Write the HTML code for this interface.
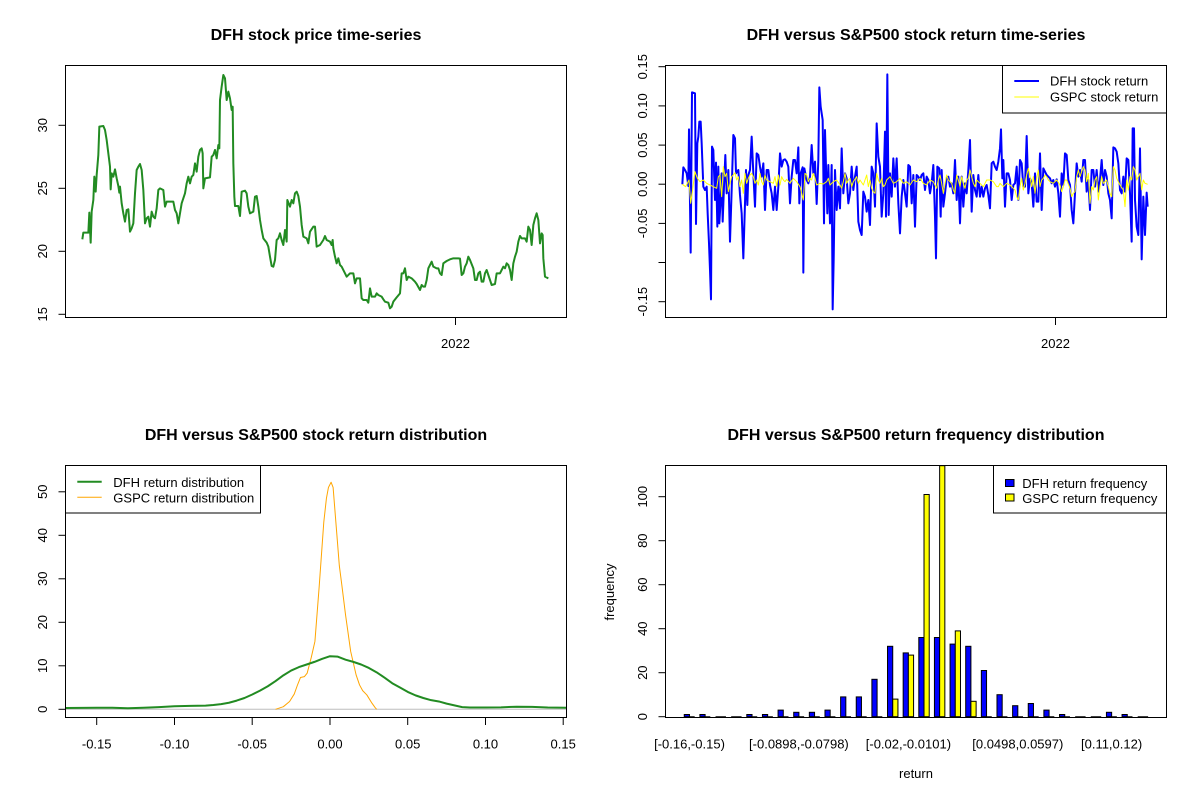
<!DOCTYPE html>
<html>
<head>
<meta charset="utf-8">
<style>
html,body{margin:0;padding:0;background:#fff;}
svg{display:block;font-family:"Liberation Sans",Arial,sans-serif;}
.t{font-size:16px;font-weight:bold;text-anchor:middle;fill:#000;}
.l{font-size:13px;fill:#000;}
.m{text-anchor:middle;}
</style>
</head>
<body>
<svg width="1200" height="800" viewBox="0 0 1200 800" xmlns="http://www.w3.org/2000/svg">
<rect width="1200" height="800" fill="#fff"/>

<!-- ============ TOP LEFT: price ============ -->
<text class="t" x="316" y="40">DFH stock price time-series</text>
<g transform="translate(60 60) scale(0.333333)">
<polyline fill="none" stroke="#228B22" stroke-width="2" vector-effect="non-scaling-stroke" stroke-linejoin="round" points="67,538 70,518 85,518 88,458 92,548 95,455 100,420 103,350 107,395 110,345 115,285 118,200 130,198 135,210 140,240 145,280 150,320 152,388 155,340 160,350 165,328 170,355 175,378 178,398 180,380 185,430 190,460 195,485 200,450 205,448 210,515 215,505 220,490 225,400 230,330 235,320 240,312 245,330 250,390 255,490 260,475 265,470 270,500 275,455 280,470 285,475 290,445 295,390 300,385 310,390 315,440 320,425 330,425 340,425 345,450 350,460 355,490 360,460 365,430 375,400 380,370 385,350 390,370 395,350 400,345 405,310 410,335 415,290 420,270 425,265 428,280 430,385 435,355 450,352 455,290 460,285 465,270 470,295 475,255 478,265 480,120 485,80 490,45 495,55 500,120 505,95 510,115 515,150 518,140 520,310 523,410 525,438 535,438 540,468 545,395 555,392 560,400 565,440 570,460 580,455 585,410 590,408 595,440 600,480 605,510 610,535 620,548 625,560 630,590 635,618 640,620 645,600 650,540 655,535 660,520 665,540 670,555 675,510 680,545 682,420 690,440 695,420 700,430 705,400 710,395 715,408 720,440 725,495 730,530 740,535 745,550 750,515 760,500 765,500 770,560 780,555 790,540 795,528 800,540 810,545 815,555 818,540 820,565 825,590 830,610 835,595 840,615 845,620 855,640 860,650 870,640 880,640 885,670 890,655 900,655 905,715 910,720 920,720 925,728 930,685 935,710 945,710 950,700 955,705 965,710 970,718 975,725 985,728 990,745 995,740 1000,725 1010,712 1020,700 1025,640 1030,640 1035,625 1040,660 1045,650 1055,655 1060,660 1065,665 1070,672 1080,690 1085,675 1090,680 1095,680 1100,660 1105,625 1110,615 1115,605 1120,620 1130,625 1135,625 1140,640 1145,645 1150,610 1160,603 1170,598 1180,595 1195,595 1200,596 1205,645 1210,640 1215,620 1220,610 1225,590 1230,600 1240,625 1245,660 1250,660 1255,640 1260,635 1265,665 1270,665 1275,640 1280,630 1285,645 1290,660 1295,675 1305,672 1310,640 1320,640 1325,630 1330,620 1335,625 1340,610 1345,615 1350,630 1355,660 1360,610 1365,590 1370,575 1375,545 1380,528 1385,535 1395,535 1400,545 1405,500 1410,510 1415,555 1420,495 1425,475 1430,460 1435,480 1440,550 1445,520 1448,525 1450,595 1455,650 1465,655"/>
</g>
<rect x="65.5" y="65.5" width="501" height="252" fill="none" stroke="#000" stroke-width="1"/>
<g stroke="#000" stroke-width="1">
<line x1="65.5" y1="125.3" x2="65.5" y2="314.3"/>
<line x1="58.5" y1="125.3" x2="65.5" y2="125.3"/>
<line x1="58.5" y1="188.3" x2="65.5" y2="188.3"/>
<line x1="58.5" y1="251.3" x2="65.5" y2="251.3"/>
<line x1="58.5" y1="314.3" x2="65.5" y2="314.3"/>
<line x1="455.5" y1="317.5" x2="455.5" y2="325"/>
</g>
<g class="l m">
<text transform="translate(47 125.3) rotate(-90)" class="l m">30</text>
<text transform="translate(47 188.3) rotate(-90)" class="l m">25</text>
<text transform="translate(47 251.3) rotate(-90)" class="l m">20</text>
<text transform="translate(47 314.3) rotate(-90)" class="l m">15</text>
<text x="455.5" y="348" class="l m">2022</text>
</g>

<!-- ============ TOP RIGHT: returns ============ -->
<text class="t" x="916" y="40">DFH versus S&amp;P500 stock return time-series</text>
<g transform="translate(660 60) scale(0.333333)">
<polyline fill="none" stroke="#0000FF" stroke-width="2" vector-effect="non-scaling-stroke" stroke-linejoin="round" points="67,373 70,322 75,330 80,340 85,378 87,208 90,430 92,578 96,97 105,100 108,492 112,250 115,230 118,185 122,185 125,250 130,380 135,390 140,380 143,460 147,550 150,630 153,718 156,260 160,270 165,420 168,308 172,500 175,320 178,490 182,420 185,340 188,485 192,380 196,285 200,400 205,330 210,545 215,390 220,225 225,235 228,340 235,330 240,405 245,460 250,595 255,430 258,330 262,435 265,345 270,330 275,230 280,340 285,440 290,280 295,285 300,320 305,350 310,310 315,450 320,330 325,330 330,375 335,400 340,450 345,380 350,450 355,380 360,280 365,320 370,300 375,298 380,305 385,320 390,430 395,350 400,300 405,300 410,340 415,262 418,430 422,340 428,322 430,638 433,325 440,360 445,370 450,350 455,255 460,340 465,305 470,432 475,300 478,82 482,140 488,180 492,490 495,210 498,320 502,460 505,315 510,490 515,315 518,748 521,600 525,330 530,450 535,380 540,445 545,265 550,400 555,340 560,355 565,430 570,400 575,320 580,390 585,350 590,320 595,485 600,510 605,525 610,395 615,410 620,455 625,420 630,495 635,320 640,340 645,440 650,190 655,290 660,320 665,470 670,400 675,215 678,470 682,43 686,465 690,340 695,410 700,295 705,380 710,295 715,430 720,520 725,410 730,360 735,400 740,440 745,315 750,320 755,430 760,345 765,500 770,345 775,350 780,360 785,345 790,340 795,390 800,350 805,360 810,400 815,370 820,315 825,470 828,595 832,320 838,325 842,470 845,330 850,440 855,400 860,355 865,350 870,380 875,370 880,400 885,300 890,420 895,350 900,490 905,350 910,440 915,370 920,400 925,330 930,240 935,455 940,345 945,390 950,410 955,345 960,410 965,380 970,410 975,385 980,375 985,405 990,445 995,310 1000,305 1005,320 1010,330 1015,305 1020,265 1023,208 1027,355 1030,300 1035,440 1040,340 1045,340 1050,360 1055,420 1060,375 1065,370 1070,320 1075,420 1080,300 1085,310 1090,380 1095,380 1100,228 1105,400 1110,355 1115,370 1120,440 1125,340 1130,425 1135,425 1140,280 1145,450 1150,325 1155,335 1160,345 1165,350 1170,355 1175,370 1180,360 1185,380 1190,358 1195,400 1200,470 1205,340 1210,375 1215,280 1220,285 1225,360 1230,375 1235,450 1240,490 1245,400 1250,310 1255,350 1260,330 1265,365 1270,300 1275,300 1280,395 1285,360 1290,450 1295,330 1300,330 1305,380 1310,330 1315,395 1320,360 1325,300 1330,375 1335,330 1340,350 1345,400 1350,420 1355,475 1360,262 1365,265 1370,275 1375,310 1380,390 1385,400 1390,350 1395,395 1400,295 1405,300 1410,400 1415,545 1418,205 1422,205 1425,420 1430,500 1435,525 1440,265 1445,598 1450,410 1455,525 1460,398 1463,440"/>
<polyline fill="none" stroke="#FFFF00" stroke-width="1" vector-effect="non-scaling-stroke" stroke-linejoin="round" points="67,373 77,380 87,360 92,430 97,395 105,335 112,355 120,365 130,360 140,370 150,375 160,380 170,385 175,350 180,345 185,410 190,320 195,350 200,340 205,395 210,370 215,350 220,345 225,338 230,360 235,350 240,380 245,360 250,400 255,340 260,370 265,355 270,345 275,340 280,350 285,370 290,360 295,375 300,340 305,365 310,375 315,345 320,360 330,365 340,370 345,350 350,380 355,345 360,375 365,350 370,360 375,365 380,358 390,370 400,355 410,365 420,380 425,400 430,420 435,340 440,345 445,365 450,355 455,360 460,340 465,355 470,375 480,370 490,372 500,365 505,355 510,375 520,365 530,360 540,375 545,385 550,365 555,340 560,370 565,360 570,355 575,380 580,365 590,350 595,370 600,360 610,375 620,345 625,380 630,360 635,385 640,395 645,400 650,340 655,360 660,370 665,355 670,380 675,375 680,360 690,350 700,370 710,365 720,355 730,370 740,365 750,375 760,360 770,365 780,355 790,370 800,375 810,360 820,365 830,385 835,360 840,345 845,370 850,400 855,370 860,345 865,360 875,370 880,390 885,400 890,345 895,360 900,380 905,350 910,370 915,385 920,360 925,355 930,330 935,350 940,370 945,380 950,360 955,365 960,370 970,380 980,360 990,360 1000,365 1010,380 1015,380 1020,370 1030,380 1040,370 1050,375 1060,385 1065,390 1070,410 1075,420 1080,380 1085,355 1090,390 1095,370 1100,345 1105,325 1110,350 1115,380 1120,350 1125,400 1130,355 1135,330 1140,380 1145,360 1150,355 1155,345 1160,350 1165,360 1170,365 1180,370 1190,360 1200,375 1205,395 1210,380 1215,360 1220,360 1230,385 1235,410 1240,400 1245,395 1250,350 1255,330 1260,350 1270,320 1275,330 1280,365 1285,340 1290,430 1295,380 1300,390 1305,360 1310,350 1315,420 1320,380 1325,350 1330,370 1340,360 1350,400 1355,410 1360,320 1365,330 1370,355 1380,375 1390,390 1395,440 1400,360 1405,390 1410,350 1415,360 1420,320 1425,330 1430,360 1440,340 1445,390 1450,360 1455,370 1463,373"/>
</g>
<rect x="665.5" y="65.5" width="501" height="252" fill="none" stroke="#000" stroke-width="1"/>
<g stroke="#000" stroke-width="1">
<line x1="665.5" y1="66.7" x2="665.5" y2="301.7"/>
<line x1="658.5" y1="66.7" x2="665.5" y2="66.7"/>
<line x1="658.5" y1="105.9" x2="665.5" y2="105.9"/>
<line x1="658.5" y1="145.1" x2="665.5" y2="145.1"/>
<line x1="658.5" y1="184.2" x2="665.5" y2="184.2"/>
<line x1="658.5" y1="223.4" x2="665.5" y2="223.4"/>
<line x1="658.5" y1="262.5" x2="665.5" y2="262.5"/>
<line x1="658.5" y1="301.7" x2="665.5" y2="301.7"/>
<line x1="1055.5" y1="317.5" x2="1055.5" y2="325"/>
</g>
<text transform="translate(647 66.7) rotate(-90)" class="l m">0.15</text>
<text transform="translate(647 105.9) rotate(-90)" class="l m">0.10</text>
<text transform="translate(647 145.1) rotate(-90)" class="l m">0.05</text>
<text transform="translate(647 184.2) rotate(-90)" class="l m">0.00</text>
<text transform="translate(647 223.4) rotate(-90)" class="l m">-0.05</text>
<text transform="translate(647 301.7) rotate(-90)" class="l m">-0.15</text>
<text x="1055.5" y="348" class="l m">2022</text>
<!-- legend -->
<rect x="1002.5" y="65.5" width="164" height="47.5" fill="#fff" stroke="#000" stroke-width="1"/>
<line x1="1014.3" y1="81" x2="1039" y2="81" stroke="#0000FF" stroke-width="2"/>
<line x1="1014.3" y1="97" x2="1039" y2="97" stroke="#FFFF00" stroke-width="1"/>
<text x="1050" y="85.5" class="l">DFH stock return</text>
<text x="1050" y="101.5" class="l">GSPC stock return</text>

<!-- ============ BOTTOM LEFT: density ============ -->
<text class="t" x="316" y="440">DFH versus S&amp;P500 stock return distribution</text>
<line x1="66" y1="709.3" x2="566" y2="709.3" stroke="#BEBEBE" stroke-width="1"/>
<g transform="translate(330 709.3) scale(1555 -4.35)">
<polyline fill="none" stroke="#FFA500" stroke-width="1" vector-effect="non-scaling-stroke" stroke-linejoin="round" points="-0.035,0 -0.03,0.6 -0.026,1.8 -0.023,3.5 -0.021,5.5 -0.019,7.3 -0.0165,7.5 -0.0147,8.3 -0.012,12 -0.0097,15.6 -0.007,28 -0.004,43 -0.0023,48.5 -0.001,51 0.0007,52.2 0.002,51 0.004,42 0.006,33 0.0076,28.6 0.01,21.7 0.0133,13.3 0.0168,7.9 0.019,5.6 0.021,4.3 0.0237,3.3 0.027,1.4 0.029,0.4 0.030,0"/>
<polyline fill="none" stroke="#228B22" stroke-width="2" vector-effect="non-scaling-stroke" stroke-linejoin="round" points="-0.170,0.3 -0.15,0.35 -0.14,0.35 -0.13,0.25 -0.12,0.35 -0.11,0.5 -0.10,0.7 -0.09,0.8 -0.08,0.85 -0.075,1.0 -0.07,1.2 -0.065,1.5 -0.06,2.0 -0.055,2.6 -0.05,3.4 -0.045,4.3 -0.04,5.3 -0.035,6.5 -0.03,7.8 -0.025,8.9 -0.02,9.7 -0.015,10.3 -0.01,10.9 -0.005,11.6 0,12.2 0.005,12.1 0.01,11.4 0.015,10.9 0.02,10.3 0.025,9.5 0.03,8.5 0.035,7.3 0.04,6.0 0.045,5.0 0.05,4.0 0.055,3.2 0.06,2.6 0.065,2.1 0.07,1.8 0.075,1.3 0.08,0.9 0.085,0.5 0.09,0.4 0.10,0.4 0.11,0.45 0.12,0.6 0.13,0.55 0.14,0.4 0.152,0.35"/>
</g>
<rect x="65.5" y="465.5" width="501" height="252" fill="none" stroke="#000" stroke-width="1"/>
<g stroke="#000" stroke-width="1">
<line x1="65.5" y1="491.8" x2="65.5" y2="709.3"/>
<line x1="58.5" y1="491.8" x2="65.5" y2="491.8"/>
<line x1="58.5" y1="535.3" x2="65.5" y2="535.3"/>
<line x1="58.5" y1="578.8" x2="65.5" y2="578.8"/>
<line x1="58.5" y1="622.3" x2="65.5" y2="622.3"/>
<line x1="58.5" y1="665.8" x2="65.5" y2="665.8"/>
<line x1="58.5" y1="709.3" x2="65.5" y2="709.3"/>
<line x1="96.7" y1="717.5" x2="563.2" y2="717.5"/>
<line x1="96.7" y1="717.5" x2="96.7" y2="725"/>
<line x1="174.5" y1="717.5" x2="174.5" y2="725"/>
<line x1="252.2" y1="717.5" x2="252.2" y2="725"/>
<line x1="330" y1="717.5" x2="330" y2="725"/>
<line x1="407.7" y1="717.5" x2="407.7" y2="725"/>
<line x1="485.5" y1="717.5" x2="485.5" y2="725"/>
<line x1="563.2" y1="717.5" x2="563.2" y2="725"/>
</g>
<text transform="translate(47 491.8) rotate(-90)" class="l m">50</text>
<text transform="translate(47 535.3) rotate(-90)" class="l m">40</text>
<text transform="translate(47 578.8) rotate(-90)" class="l m">30</text>
<text transform="translate(47 622.3) rotate(-90)" class="l m">20</text>
<text transform="translate(47 665.8) rotate(-90)" class="l m">10</text>
<text transform="translate(47 709.3) rotate(-90)" class="l m">0</text>
<text x="96.7" y="748.5" class="l m">-0.15</text>
<text x="174.5" y="748.5" class="l m">-0.10</text>
<text x="252.2" y="748.5" class="l m">-0.05</text>
<text x="330" y="748.5" class="l m">0.00</text>
<text x="407.7" y="748.5" class="l m">0.05</text>
<text x="485.5" y="748.5" class="l m">0.10</text>
<text x="563.2" y="748.5" class="l m">0.15</text>
<!-- legend -->
<rect x="65.5" y="465.5" width="195" height="47.5" fill="#fff" stroke="#000" stroke-width="1"/>
<line x1="77.3" y1="481.7" x2="101.7" y2="481.7" stroke="#228B22" stroke-width="2"/>
<line x1="77.3" y1="497.3" x2="101.7" y2="497.3" stroke="#FFA500" stroke-width="1"/>
<text x="113.3" y="487.2" class="l">DFH return distribution</text>
<text x="113.3" y="502.5" class="l">GSPC return distribution</text>

<!-- ============ BOTTOM RIGHT: barplot ============ -->
<text class="t" x="916" y="440">DFH versus S&amp;P500 return frequency distribution</text>
<g stroke="#000" stroke-width="1">
<path fill="none" d="M684.26 716.7h10.42 M699.89 716.7h10.42 M715.53 716.7h10.42 M731.16 716.7h10.42 M746.80 716.7h10.42 M762.44 716.7h10.42 M778.07 716.7h10.42 M793.71 716.7h10.42 M809.34 716.7h10.42 M824.98 716.7h10.42 M840.62 716.7h10.42 M856.25 716.7h10.42 M871.89 716.7h10.42 M887.52 716.7h10.42 M903.16 716.7h10.42 M918.80 716.7h10.42 M934.43 716.7h10.42 M950.07 716.7h10.42 M965.70 716.7h10.42 M981.34 716.7h10.42 M996.98 716.7h10.42 M1012.61 716.7h10.42 M1028.25 716.7h10.42 M1043.88 716.7h10.42 M1059.52 716.7h10.42 M1075.16 716.7h10.42 M1090.79 716.7h10.42 M1106.43 716.7h10.42 M1122.06 716.7h10.42 M1137.70 716.7h10.42"/>
<g fill="#0000FF">
<rect x="684.26" y="714.5" width="5.21" height="2.2"/>
<rect x="699.89" y="714.5" width="5.21" height="2.2"/>
<rect x="746.80" y="714.5" width="5.21" height="2.2"/>
<rect x="762.44" y="714.5" width="5.21" height="2.2"/>
<rect x="778.07" y="710.1" width="5.21" height="6.6"/>
<rect x="793.71" y="712.3" width="5.21" height="4.4"/>
<rect x="809.34" y="712.3" width="5.21" height="4.4"/>
<rect x="824.98" y="710.1" width="5.21" height="6.6"/>
<rect x="840.62" y="696.9" width="5.21" height="19.8"/>
<rect x="856.25" y="696.9" width="5.21" height="19.8"/>
<rect x="871.89" y="679.3" width="5.21" height="37.4"/>
<rect x="887.52" y="646.3" width="5.21" height="70.4"/>
<rect x="903.16" y="652.9" width="5.21" height="63.8"/>
<rect x="918.80" y="637.5" width="5.21" height="79.2"/>
<rect x="934.43" y="637.5" width="5.21" height="79.2"/>
<rect x="950.07" y="644.1" width="5.21" height="72.6"/>
<rect x="965.70" y="646.3" width="5.21" height="70.4"/>
<rect x="981.34" y="670.5" width="5.21" height="46.2"/>
<rect x="996.98" y="694.7" width="5.21" height="22"/>
<rect x="1012.61" y="705.7" width="5.21" height="11"/>
<rect x="1028.25" y="703.5" width="5.21" height="13.2"/>
<rect x="1043.88" y="710.1" width="5.21" height="6.6"/>
<rect x="1059.52" y="714.5" width="5.21" height="2.2"/>
<rect x="1106.43" y="712.3" width="5.21" height="4.4"/>
<rect x="1122.06" y="714.5" width="5.21" height="2.2"/>
</g>
<g fill="#FFFF00">
<rect x="892.73" y="699.1" width="5.21" height="17.6"/>
<rect x="908.37" y="655.1" width="5.21" height="61.6"/>
<rect x="924.01" y="494.5" width="5.21" height="222.2"/>
<rect x="939.64" y="465.7" width="5.21" height="251"/>
<rect x="955.28" y="630.9" width="5.21" height="85.8"/>
<rect x="970.91" y="701.3" width="5.21" height="15.4"/>
</g>
</g>
<rect x="665.5" y="465.5" width="501" height="252" fill="none" stroke="#000" stroke-width="1"/>
<g stroke="#000" stroke-width="1">
<line x1="665.5" y1="496.7" x2="665.5" y2="716.7"/>
<line x1="658.5" y1="496.7" x2="665.5" y2="496.7"/>
<line x1="658.5" y1="540.7" x2="665.5" y2="540.7"/>
<line x1="658.5" y1="584.7" x2="665.5" y2="584.7"/>
<line x1="658.5" y1="628.7" x2="665.5" y2="628.7"/>
<line x1="658.5" y1="672.7" x2="665.5" y2="672.7"/>
<line x1="658.5" y1="716.7" x2="665.5" y2="716.7"/>
</g>
<text transform="translate(647 496.7) rotate(-90)" class="l m">100</text>
<text transform="translate(647 540.7) rotate(-90)" class="l m">80</text>
<text transform="translate(647 584.7) rotate(-90)" class="l m">60</text>
<text transform="translate(647 628.7) rotate(-90)" class="l m">40</text>
<text transform="translate(647 672.7) rotate(-90)" class="l m">20</text>
<text transform="translate(647 716.7) rotate(-90)" class="l m">0</text>
<text transform="translate(614 592) rotate(-90)" class="l m">frequency</text>
<text x="689.5" y="748.5" class="l m">[-0.16,-0.15)</text>
<text x="798.9" y="748.5" class="l m">[-0.0898,-0.0798)</text>
<text x="908.4" y="748.5" class="l m">[-0.02,-0.0101)</text>
<text x="1017.8" y="748.5" class="l m">[0.0498,0.0597)</text>
<text x="1111.6" y="748.5" class="l m">[0.11,0.12)</text>
<text x="916" y="778" class="l m">return</text>
<!-- legend -->
<rect x="993.5" y="465.5" width="173" height="47.5" fill="#fff" stroke="#000" stroke-width="1"/>
<rect x="1005.5" y="479.5" width="8.5" height="7" fill="#0000FF" stroke="#000" stroke-width="1"/>
<rect x="1005.5" y="494" width="8.5" height="7" fill="#FFFF00" stroke="#000" stroke-width="1"/>
<text x="1022.3" y="487.8" class="l">DFH return frequency</text>
<text x="1022.3" y="502.8" class="l">GSPC return frequency</text>
</svg>
</body>
</html>
